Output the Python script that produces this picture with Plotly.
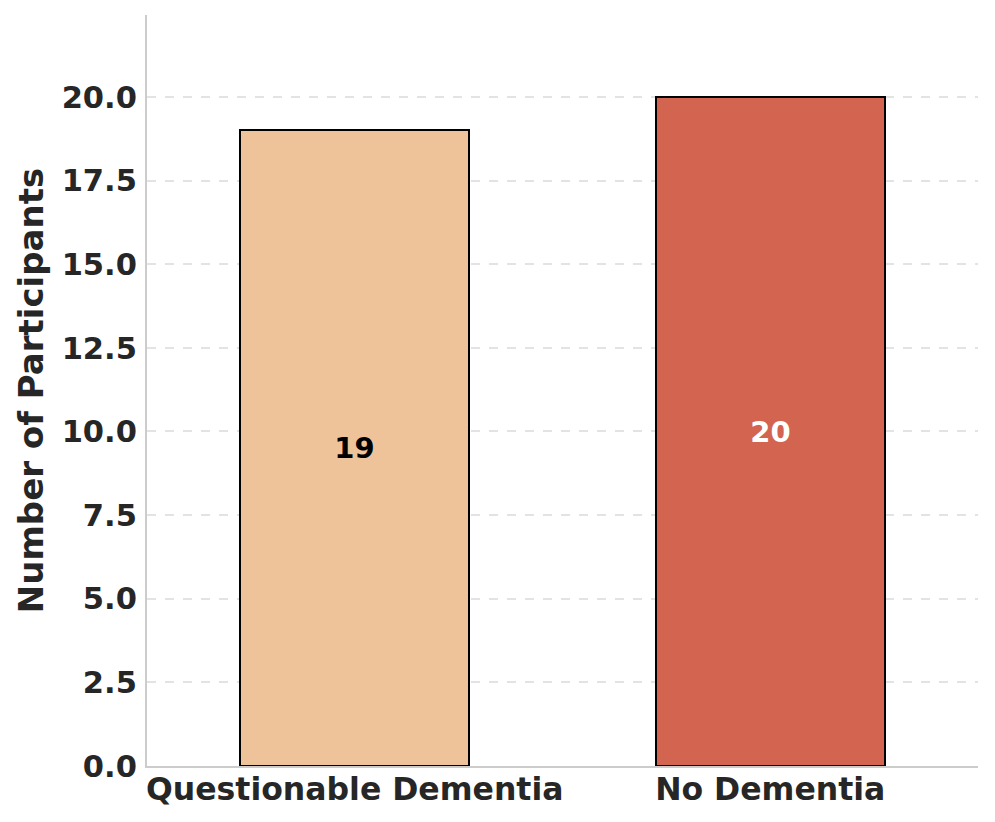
import plotly.graph_objects as go

categories = ["Questionable Dementia", "No Dementia"]
counts = [19, 20]
bar_colors = ["#EFC39A", "#D26450"]
label_colors = ["#000000", "#FFFFFF"]
y_ticks = [0, 2.5, 5, 7.5, 10, 12.5, 15, 17.5, 20]

FONT = "DejaVu Sans"
TXT = "#262626"

fig = go.Figure()
fig.add_trace(go.Bar(
    x=list(range(len(categories))),
    y=counts,
    width=0.55,
    marker=dict(color=bar_colors, line=dict(color="#000000", width=2)),
    text=[f"<b>{c}</b>" for c in counts],
    textposition="inside",
    insidetextanchor="middle",
    textangle=0,
    constraintext="none",
    textfont=dict(family=FONT, size=29, color=label_colors),
    showlegend=False,
))

fig.update_layout(
    width=987, height=814,
    margin=dict(l=139, r=17, t=7, b=56),
    paper_bgcolor="white", plot_bgcolor="white",
    font=dict(family=FONT, color=TXT),
    bargap=0,
)
fig.update_xaxes(
    range=[-0.5, 1.5],
    tickmode="array",
    tickvals=list(range(len(categories))),
    ticktext=[f"<b>{c}</b>" for c in categories],
    tickfont=dict(family=FONT, size=31.5, color=TXT),
    showline=True, linecolor="#cccccc", linewidth=2,
    showgrid=False, zeroline=False,
    ticks="", ticklabelstandoff=-6,
)
fig.update_yaxes(
    range=[0, 22.45],
    tickmode="array",
    tickvals=y_ticks,
    ticktext=[f"<b>{v:.1f}</b>" for v in y_ticks],
    tickfont=dict(family=FONT, size=30.5, color=TXT),
    showline=True, linecolor="#cccccc", linewidth=2,
    showgrid=True, gridcolor="#e3e3e3", gridwidth=1.5, griddash="dash",
    zeroline=False,
    ticks="", ticklabelstandoff=2,
    title=dict(text="<b>Number of Participants</b>", font=dict(family=FONT, size=34, color=TXT), standoff=8),
)

fig.write_html("out.html")
